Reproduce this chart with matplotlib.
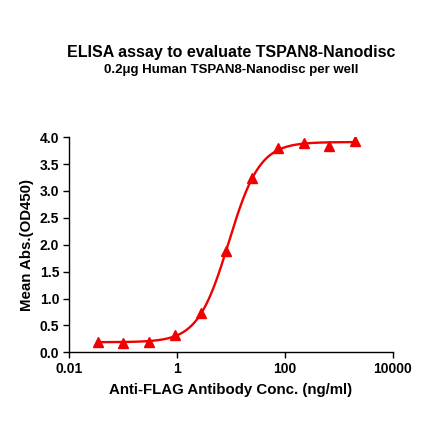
import numpy as np
import matplotlib
matplotlib.use('Agg')
import matplotlib.pyplot as plt
from matplotlib.ticker import FixedLocator, NullLocator

# Data
conc = [0.0339, 0.1016, 0.305, 0.914, 2.74, 8.23, 24.7, 74.1, 222.2, 666.7, 2000.0]
od450 = [0.19, 0.17, 0.20, 0.32, 0.74, 1.88, 3.25, 3.79, 3.90, 3.83, 3.93]
x_ticks = [0.01, 1, 100, 10000]
x_tick_labels = ['0.01', '1', '100', '10000']
y_ticks = [0.0, 0.5, 1.0, 1.5, 2.0, 2.5, 3.0, 3.5, 4.0]

title = 'ELISA assay to evaluate TSPAN8-Nanodisc'
subtitle = '0.2\u03bcg Human TSPAN8-Nanodisc per well'
xlabel = 'Anti-FLAG Antibody Conc. (ng/ml)'
ylabel = 'Mean Abs.(OD450)'

plt.rcParams['font.family'] = ['Liberation Sans', 'DejaVu Sans']
plt.rcParams['font.weight'] = 'bold'


def four_pl(lx, p):
    bottom, top, lec50, hill = p
    return bottom + (top - bottom) / (1 + 10 ** ((lec50 - lx) * hill))


# Fit a 4-parameter logistic curve to the points (simple Gauss-Newton)
lx = np.log10(conc)
y = np.array(od450)
p = np.array([min(od450), max(od450), 1.0, 1.0])
for _ in range(200):
    r = y - four_pl(lx, p)
    J = np.zeros((len(lx), 4))
    for k in range(4):
        dp = np.zeros(4)
        dp[k] = 1e-6
        J[:, k] = (four_pl(lx, p + dp) - four_pl(lx, p - dp)) / 2e-6
    step = np.linalg.lstsq(J, r, rcond=None)[0]
    p = p + 0.5 * step

xs = np.logspace(np.log10(conc[0]), np.log10(conc[-1]), 400)

fig = plt.figure(figsize=(4.4, 4.41), dpi=100)
ax = fig.add_axes([0.157, 0.201, 0.736, 0.488])

ax.plot(xs, four_pl(np.log10(xs), p), color='#f00000', lw=1.7, zorder=2)
ax.plot(conc, od450, linestyle='none', marker='^', color='#f00000',
        markersize=7, zorder=3)

ax.set_xscale('log')
ax.set_xlim(0.01, 10000)
ax.set_ylim(0, 4.0)
ax.xaxis.set_major_locator(FixedLocator(x_ticks))
ax.xaxis.set_minor_locator(NullLocator())
ax.set_xticklabels(x_tick_labels)
ax.set_yticks(y_ticks)
ax.set_yticklabels([f'{v:.1f}' for v in y_ticks])

for s in ['top', 'right']:
    ax.spines[s].set_visible(False)
for s in ['left', 'bottom']:
    ax.spines[s].set_linewidth(1.0)
ax.tick_params(axis='both', direction='out', length=4.5, width=1.0,
               labelsize=10, pad=2.5)
for lab in ax.get_xticklabels() + ax.get_yticklabels():
    lab.set_fontweight('bold')

ax.set_xlabel(xlabel, fontsize=10.8, fontweight='bold', labelpad=5)
ax.set_ylabel(ylabel, fontsize=10.8, fontweight='bold', labelpad=4)

fig.text(0.525, 1 - 57 / 441, title, ha='center', va='baseline',
         fontsize=11.5, fontweight='bold')
fig.text(0.525, 1 - 73 / 441, subtitle, ha='center', va='baseline',
         fontsize=9.5, fontweight='bold')

fig.savefig('out.png', dpi=100, facecolor='white')
